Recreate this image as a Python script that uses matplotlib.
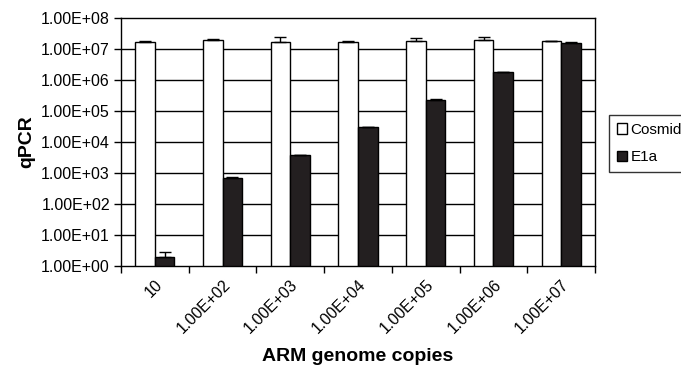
import numpy as np
import matplotlib.pyplot as plt
from matplotlib.ticker import FixedLocator, NullLocator
from matplotlib.transforms import ScaledTranslation

plt.rcParams['font.family'] = ['Liberation Sans', 'DejaVu Sans']

# data
categories = ['10', '1.00E+02', '1.00E+03', '1.00E+04', '1.00E+05', '1.00E+06', '1.00E+07']
cosmid = [1.7e7, 2.0e7, 1.7e7, 1.7e7, 1.8e7, 2.0e7, 1.75e7]
cosmid_err = [1.0e6, 1.0e6, 7.0e6, 1.0e6, 5.0e6, 4.0e6, 1.0e6]
e1a = [1.9, 700, 3800, 3.0e4, 2.3e5, 1.8e6, 1.6e7]
e1a_err = [0.9, 20, 150, 1500, 5000, 5e4, 3e5]
ytick_vals = [1e0, 1e1, 1e2, 1e3, 1e4, 1e5, 1e6, 1e7, 1e8]
ytick_labels = ['1.00E+00', '1.00E+01', '1.00E+02', '1.00E+03', '1.00E+04',
                '1.00E+05', '1.00E+06', '1.00E+07', '1.00E+08']

fig = plt.figure(figsize=(6.81, 3.71), dpi=100)
ax = fig.add_axes([121 / 681, 1 - 266 / 371, (595 - 121) / 681, (266 - 18) / 371])

x = np.arange(len(categories))
w = 0.29
ax.set_yscale('log')
ax.set_ylim(1, 1e8)
ax.set_xlim(-0.5, len(categories) - 0.5)

for yv in ytick_vals[1:-1]:
    ax.axhline(yv, color='black', lw=1.0, zorder=1)

# bars start at the axis floor (1) so heights are value - 1
ax.bar(x - w / 2, np.array(cosmid) - 1, w, bottom=1, color='white',
       edgecolor='black', lw=1.0, label='Cosmid', zorder=3)
ax.bar(x + w / 2, np.array(e1a) - 1, w, bottom=1, color='#231f20',
       edgecolor='black', lw=1.0, label='E1a', zorder=3)
ax.errorbar(x - w / 2, cosmid, yerr=[np.zeros(len(x)), cosmid_err], fmt='none',
            ecolor='black', elinewidth=1, capsize=4, capthick=1, zorder=4)
ax.errorbar(x + w / 2, e1a, yerr=[np.zeros(len(x)), e1a_err], fmt='none',
            ecolor='black', elinewidth=1, capsize=4, capthick=1, zorder=4)

ax.yaxis.set_major_locator(FixedLocator(ytick_vals))
ax.yaxis.set_minor_locator(NullLocator())
ax.set_yticklabels(ytick_labels, fontsize=11.5)
ax.tick_params(axis='y', direction='out', length=5, width=1, pad=3)

ax.set_xticks(np.arange(len(categories) + 1) - 0.5)
ax.set_xticklabels([])
ax.set_xticks(x, minor=True)
ax.set_xticklabels(categories, minor=True, rotation=45, ha='right',
                   rotation_mode='anchor', fontsize=11.5)
shift = ScaledTranslation(-8 / 100, 0, fig.dpi_scale_trans)
for lbl in ax.get_xticklabels(minor=True):
    lbl.set_transform(lbl.get_transform() + shift)
ax.tick_params(axis='x', which='major', direction='out', length=5, width=1)
ax.tick_params(axis='x', which='minor', length=0, pad=8)

for s in ax.spines.values():
    s.set_linewidth(1.0)

ax.set_ylabel('qPCR', fontsize=14, fontweight='bold', labelpad=4)
ax.set_xlabel('ARM genome copies', fontsize=14, fontweight='bold', labelpad=8)

leg = ax.legend(loc='upper left', bbox_to_anchor=(609 / 681, 1 - 115 / 371),
                bbox_transform=fig.transFigure, frameon=True, fancybox=False,
                edgecolor='black', fontsize=11, handlelength=0.7, handleheight=0.7,
                handletextpad=0.2, borderpad=0.5, labelspacing=0.9, borderaxespad=0)
leg.get_frame().set_linewidth(1.0)

fig.savefig('out.png', dpi=100)
